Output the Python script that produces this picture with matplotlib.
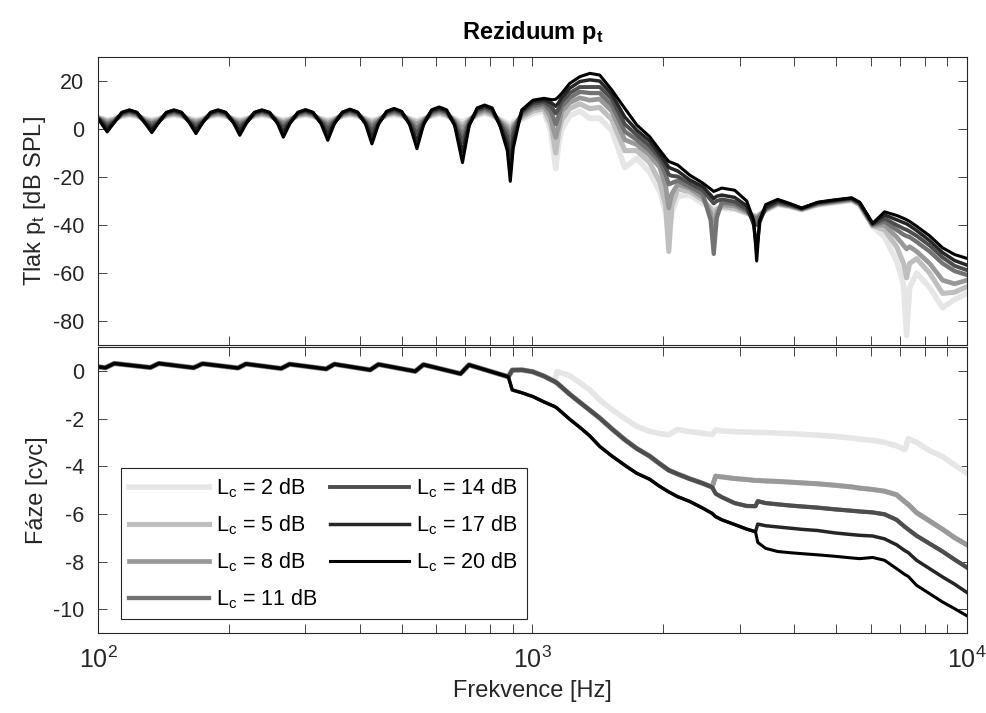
import numpy as np
import matplotlib
matplotlib.use("Agg")
import matplotlib.pyplot as plt

plt.rcParams['font.family'] = ['Liberation Sans', 'DejaVu Sans']
plt.rcParams['mathtext.fontset'] = 'custom'
plt.rcParams['mathtext.rm'] = 'Liberation Sans'
plt.rcParams['mathtext.it'] = 'Liberation Sans:italic'
plt.rcParams['mathtext.bf'] = 'Liberation Sans:bold'
plt.rcParams['axes.unicode_minus'] = False

levels = [2, 5, 8, 11, 14, 17, 20]  # L_c [dB]

# ---- magnitude of the residuum [dB SPL]
freq_mag = [
    100,
    105, 108.8, 113.5, 118.1, 122.9, 128.2,
    133, 137.8, 143.7, 149.6, 155.7, 162.4,
    168, 174, 181.6, 188.9, 196.7, 205.2,
    212, 219.6, 229.1, 238.4, 248.2, 258.9,
    267, 276.6, 288.5, 300.3, 312.5, 326.1,
    338, 350.1, 365.3, 380.1, 395.7, 412.8,
    427, 442.3, 461.5, 480.2, 499.8, 521.5,
    542, 561.5, 585.7, 609.6, 634.5, 661.9,
    690, 714.8, 745.7, 776, 807.7, 842.7,
    875, 889, 903,
    945, 1002, 1062, 1102, 1113, 1131, 1149, 1168, 1218, 1285,
    1355, 1428, 1522, 1631, 1738, 1861, 1963, 2026, 2059, 2092,
    2159, 2301, 2465, 2571, 2613, 2655, 2727, 2920, 3112, 3229,
    3281, 3334, 3442, 3667, 3908, 4164, 4533, 4961, 5427, 5661,
    6066, 6462, 6887, 7146, 7262, 7380, 7657, 8204, 8789, 9366,
    10000,
]

mag_2db = [
    4.8,
    3.8, 4.3, 5.3, 5.8, 5.3, 4.3,
    3.8, 4.3, 5.3, 5.8, 5.3, 4.3,
    3.8, 4.3, 5.3, 5.8, 5.3, 4.3,
    3.8, 4.3, 5.3, 5.8, 5.3, 4.3,
    3.8, 4.3, 5.3, 5.8, 5.3, 4.3,
    3.7, 4.3, 5.3, 5.9, 5.3, 4.3,
    3.6, 4.3, 5.4, 6.0, 5.4, 4.3,
    3.5, 4.3, 5.4, 6.2, 5.4, 4.3,
    3.0, 4.2, 5.6, 6.6, 5.6, 4.0,
    2.5, 1.5, 3.0,
    4.0, 6.5, 7.5, -1.0, -7.0, -16.5, -6.0, 0.0, 5.5, 7.5,
    4.5, 4.5, -0.5, -16.0, -12.2, -18.0, -26.0, -35.0, -45.0, -35.0,
    -28.0, -27.5, -31.0, -33.0, -34.0, -33.0, -33.0, -33.5, -35.0, -36.0,
    -36.5, -35.5, -34.0, -31.5, -32.3, -33.6, -31.7, -30.7, -29.8, -31.7,
    -40.5, -45.0, -55.0, -65.0, -86.0, -66.0, -60.0, -66.0, -74.5, -71.0,
    -68.5,
]
mag_5db = [
    4.8,
    3.3, 4.0, 5.6, 6.2, 5.6, 4.0,
    3.3, 4.0, 5.6, 6.2, 5.6, 4.0,
    3.3, 4.0, 5.6, 6.2, 5.6, 4.0,
    3.3, 4.0, 5.6, 6.2, 5.6, 4.0,
    3.2, 4.0, 5.6, 6.2, 5.6, 4.0,
    3.1, 4.0, 5.7, 6.3, 5.7, 4.0,
    3.0, 4.0, 5.8, 6.5, 5.8, 4.0,
    2.8, 4.0, 5.8, 6.7, 5.8, 3.9,
    1.5, 3.8, 6.0, 7.2, 6.0, 3.5,
    1.5, -1.0, 2.0,
    4.8, 7.5, 8.5, 2.0, -2.0, -10.0, -1.0, 4.0, 8.5, 10.5,
    8.5, 9.0, 4.0, -9.0, -9.0, -14.0, -22.0, -32.0, -51.0, -32.0,
    -25.0, -26.0, -29.5, -33.0, -36.0, -33.5, -32.3, -33.0, -35.0, -36.2,
    -36.5, -35.7, -33.7, -31.2, -32.2, -33.5, -31.5, -30.5, -29.6, -31.5,
    -40.3, -42.0, -49.0, -56.0, -62.0, -56.0, -54.0, -60.0, -68.5, -68.0,
    -65.7,
]
mag_8db = [
    4.7,
    2.8, 3.6, 5.9, 6.6, 5.9, 3.6,
    2.8, 3.6, 5.9, 6.6, 5.9, 3.6,
    2.8, 3.6, 5.9, 6.6, 5.9, 3.6,
    2.7, 3.6, 5.9, 6.6, 5.9, 3.6,
    2.6, 3.6, 5.9, 6.6, 5.9, 3.6,
    2.4, 3.6, 6.0, 6.7, 6.0, 3.6,
    2.2, 3.6, 6.1, 6.9, 6.1, 3.5,
    1.8, 3.6, 6.2, 7.2, 6.2, 3.4,
    0.0, 3.4, 6.6, 7.8, 6.6, 3.0,
    0.5, -4.0, 1.0,
    5.6, 8.5, 9.5, 5.0, 1.0, -3.5, 1.5, 7.5, 11.0, 13.0,
    12.0, 12.5, 7.5, -4.5, -6.5, -11.0, -16.0, -24.0, -33.0, -27.0,
    -23.0, -24.7, -28.5, -35.0, -44.0, -35.0, -31.5, -32.0, -34.5, -36.5,
    -37.0, -36.0, -33.5, -31.0, -32.0, -33.4, -31.3, -30.3, -29.4, -31.3,
    -40.1, -40.0, -45.0, -48.5, -50.0, -49.0, -51.0, -56.0, -63.0, -64.5,
    -63.0,
]
mag_11db = [
    4.6,
    2.1, 3.3, 6.2, 7.0, 6.2, 3.3,
    2.1, 3.3, 6.2, 7.0, 6.2, 3.3,
    2.0, 3.3, 6.2, 7.0, 6.2, 3.3,
    1.9, 3.3, 6.2, 7.0, 6.2, 3.3,
    1.7, 3.3, 6.2, 7.0, 6.2, 3.3,
    1.4, 3.3, 6.3, 7.1, 6.3, 3.2,
    1.0, 3.3, 6.4, 7.3, 6.4, 3.1,
    0.0, 3.2, 6.7, 7.7, 6.7, 2.9,
    -2.5, 2.9, 7.2, 8.4, 7.2, 2.5,
    -1.0, -8.0, 0.0,
    6.4, 9.5, 10.5, 7.5, 5.5, 2.0, 5.5, 9.5, 13.0, 15.5,
    15.0, 15.0, 10.0, -1.0, -4.5, -9.0, -13.5, -19.0, -23.0, -22.5,
    -21.5, -24.0, -27.0, -38.0, -52.0, -37.0, -30.5, -31.2, -34.0, -37.0,
    -37.5, -36.5, -33.3, -30.8, -31.8, -33.3, -31.1, -30.1, -29.2, -31.1,
    -39.9, -38.5, -42.0, -44.0, -44.6, -45.0, -47.0, -51.0, -56.0, -59.2,
    -60.8,
]
mag_14db = [
    4.5,
    1.3, 3.0, 6.5, 7.4, 6.5, 3.0,
    1.2, 3.0, 6.5, 7.4, 6.5, 3.0,
    1.1, 3.0, 6.5, 7.4, 6.5, 3.0,
    0.9, 3.0, 6.5, 7.4, 6.5, 3.0,
    0.5, 3.0, 6.5, 7.4, 6.5, 2.9,
    0.0, 2.9, 6.6, 7.6, 6.6, 2.8,
    -0.8, 2.8, 6.8, 7.8, 6.8, 2.6,
    -2.0, 2.7, 7.2, 8.2, 7.2, 2.3,
    -5.5, 2.3, 7.8, 9.0, 7.8, 2.0,
    -3.0, -12.0, -2.0,
    7.0, 10.5, 11.3, 9.5, 8.5, 6.5, 8.5, 11.5, 15.0, 17.5,
    17.5, 17.5, 12.5, 2.0, -2.5, -7.0, -12.0, -16.0, -19.0, -19.5,
    -19.8, -22.6, -25.5, -29.5, -31.0, -30.0, -29.3, -30.3, -33.3, -38.5,
    -40.0, -38.0, -33.0, -30.5, -31.6, -33.2, -30.9, -29.9, -29.0, -30.9,
    -39.7, -37.3, -40.0, -41.5, -42.0, -42.7, -44.5, -48.5, -53.5, -57.0,
    -58.8,
]
mag_17db = [
    4.4,
    0.2, 2.7, 6.8, 7.7, 6.8, 2.7,
    0.0, 2.7, 6.8, 7.7, 6.8, 2.7,
    -0.3, 2.7, 6.8, 7.7, 6.8, 2.7,
    -0.7, 2.7, 6.8, 7.7, 6.8, 2.6,
    -1.3, 2.6, 6.8, 7.8, 6.8, 2.5,
    -2.2, 2.5, 6.9, 7.9, 6.9, 2.4,
    -3.4, 2.3, 7.1, 8.2, 7.1, 2.1,
    -5.0, 2.1, 7.6, 8.7, 7.6, 1.8,
    -9.5, 1.7, 8.3, 9.5, 8.3, 1.5,
    -6.0, -17.0, -5.0,
    7.5, 11.3, 12.0, 11.0, 10.5, 9.5, 11.0, 13.2, 17.0, 19.8,
    20.5, 20.0, 14.5, 5.0, -0.5, -5.0, -10.5, -14.0, -16.0, -16.5,
    -17.5, -21.2, -24.0, -27.5, -29.0, -28.0, -27.5, -28.5, -32.0, -40.0,
    -50.0, -39.0, -32.5, -30.0, -31.3, -33.0, -30.7, -29.7, -28.8, -30.7,
    -39.5, -35.8, -37.8, -39.0, -39.5, -40.3, -42.3, -46.5, -51.5, -54.8,
    -56.7,
]
mag_20db = [
    4.3,
    -1.2, 2.5, 7.0, 8.0, 7.0, 2.5,
    -1.5, 2.5, 7.0, 8.0, 7.0, 2.5,
    -1.9, 2.5, 7.0, 8.0, 7.0, 2.4,
    -2.6, 2.4, 7.0, 8.0, 7.0, 2.3,
    -3.4, 2.3, 7.0, 8.1, 7.0, 2.2,
    -4.7, 2.2, 7.1, 8.3, 7.1, 2.0,
    -6.2, 2.0, 7.4, 8.6, 7.4, 1.8,
    -8.2, 1.8, 8.0, 9.2, 8.0, 1.5,
    -14.0, 1.3, 8.8, 10.0, 8.8, 1.0,
    -9.0, -21.8, -8.0,
    8.0, 12.0, 12.8, 12.3, 12.2, 12.4, 13.5, 14.9, 19.0, 21.8,
    23.2, 22.5, 16.3, 8.6, 1.7, -3.2, -8.8, -12.0, -13.5, -14.0,
    -15.0, -19.2, -22.5, -25.0, -26.0, -25.5, -24.6, -25.5, -30.0, -38.0,
    -55.0, -38.0, -31.5, -29.3, -31.0, -33.0, -30.5, -29.5, -28.7, -30.5,
    -39.3, -34.5, -36.0, -37.2, -37.8, -38.5, -40.5, -44.5, -49.5, -52.3,
    -53.9,
]

# ---- phase [cycles]
freq_phase = [
    100, 104, 109, 132, 138, 166, 174, 210, 219, 264,
    276, 335, 350, 423, 442, 537, 561, 683, 714, 880,
    898, 945, 1002, 1062, 1125, 1140, 1218, 1285, 1355, 1428,
    1522, 1631, 1738, 1861, 1963, 2059, 2159, 2301, 2465, 2590,
    2640, 2727, 2920, 3112, 3260, 3300, 3442, 3667, 3908, 4164,
    4533, 4961, 5427, 5661, 6066, 6462, 6887, 7200, 7320, 7657,
    8204, 8789, 9366, 10000,
]
# all levels coincide below ~880 Hz
phase_low = [0.17, 0.13, 0.31, 0.14, 0.31, 0.13, 0.30, 0.12, 0.29, 0.10,
             0.28, 0.08, 0.28, 0.04, 0.27, -0.02, 0.26, -0.12, 0.25, -0.25]

phase_2db = phase_low + [
    0.03, 0.04, -0.04, -0.22, -0.45, -0.03, -0.20, -0.50, -0.80, -1.22,
    -1.62, -2.00, -2.33, -2.54, -2.63, -2.68, -2.46, -2.55, -2.62, -2.68,
    -2.48, -2.52, -2.55, -2.57, -2.58, -2.58, -2.59, -2.61, -2.63, -2.66,
    -2.70, -2.75, -2.82, -2.86, -2.92, -3.00, -3.15, -3.30, -2.85, -3.00,
    -3.35, -3.60, -3.95, -4.30,
]
phase_8db = phase_low + [
    0.03, 0.04, -0.04, -0.22, -0.45, -0.52, -0.98, -1.32, -1.65, -1.98,
    -2.43, -2.89, -3.26, -3.58, -3.90, -4.17, -4.33, -4.53, -4.72, -4.88,
    -4.42, -4.45, -4.52, -4.56, -4.60, -4.60, -4.62, -4.64, -4.67, -4.70,
    -4.74, -4.80, -4.87, -4.92, -4.98, -5.05, -5.20, -5.50, -5.60, -5.95,
    -6.30, -6.65, -7.00, -7.30,
]
phase_5db = list(phase_8db)    # hidden under the 8 dB line
phase_14db = phase_low + [
    0.03, 0.04, -0.04, -0.22, -0.45, -0.52, -0.98, -1.32, -1.65, -1.98,
    -2.43, -2.89, -3.26, -3.58, -3.90, -4.17, -4.33, -4.53, -4.72, -4.88,
    -5.15, -5.30, -5.55, -5.67, -5.68, -5.47, -5.55, -5.60, -5.65, -5.69,
    -5.74, -5.81, -5.87, -5.90, -5.94, -6.02, -6.25, -6.55, -6.65, -6.92,
    -7.25, -7.58, -7.92, -8.25,
]
phase_11db = list(phase_14db)  # hidden under the 14 dB line
phase_17db = phase_low + [
    -0.80, -0.92, -1.08, -1.30, -1.50, -1.57, -2.03, -2.37, -2.73, -3.17,
    -3.57, -3.96, -4.30, -4.55, -4.85, -5.08, -5.28, -5.48, -5.76, -5.98,
    -6.12, -6.25, -6.45, -6.64, -6.75, -6.43, -6.50, -6.55, -6.60, -6.65,
    -6.70, -6.80, -6.87, -6.90, -6.93, -7.05, -7.30, -7.55, -7.62, -7.95,
    -8.30, -8.65, -8.95, -9.30,
]
phase_20db = phase_low + [
    -0.80, -0.92, -1.08, -1.30, -1.50, -1.57, -2.03, -2.37, -2.73, -3.17,
    -3.57, -3.96, -4.30, -4.55, -4.85, -5.08, -5.28, -5.48, -5.76, -5.98,
    -6.12, -6.25, -6.45, -6.64, -6.75, -7.20, -7.45, -7.58, -7.63, -7.67,
    -7.72, -7.78, -7.85, -7.88, -7.83, -7.95, -8.30, -8.55, -8.62, -9.00,
    -9.35, -9.70, -9.98, -10.28,
]

mags = [mag_2db, mag_5db, mag_8db, mag_11db, mag_14db, mag_17db, mag_20db]
phases = [phase_2db, phase_5db, phase_8db, phase_11db, phase_14db, phase_17db, phase_20db]

grays = np.linspace(0.9, 0.0, len(levels))
widths = np.linspace(4.0, 2.2, len(levels))
axcol = '#262626'

fig = plt.figure(figsize=(9.86, 7.13), dpi=100)
ax1 = fig.add_axes([0.0994, 0.5161, 0.8813, 0.4039])
ax2 = fig.add_axes([0.0994, 0.1122, 0.8813, 0.4011])

for i, L in enumerate(levels):
    c = str(grays[i])
    ax1.plot(freq_mag, mags[i], color=c, lw=widths[i], solid_joinstyle='round')
    ax2.plot(freq_phase, phases[i], color=c, lw=widths[i], solid_joinstyle='round',
             label=r'L$_\mathregular{c}$ = %d dB' % L)

for ax in (ax1, ax2):
    ax.set_xscale('log')
    ax.set_xlim(100, 10000)
    ax.tick_params(which='both', direction='in', top=True, right=True,
                   length=6.5, width=0.6, color=axcol, labelcolor=axcol,
                   labelsize=15.5)
    ax.tick_params(axis='y', pad=10)
    ax.tick_params(axis='x', pad=10, labelsize=18)
    for s in ax.spines.values():
        s.set_color(axcol)
        s.set_linewidth(0.8)

ax1.set_ylim(-90, 30)
ax1.set_yticks(np.arange(-80, 21, 20))
ax1.tick_params(labelbottom=False)
ax2.set_ylim(-11, 1)
ax2.set_yticks(np.arange(-10, 1, 2))

ax1.set_title(r'Reziduum p$_\mathbf{t}$', fontsize=17, fontweight='bold', pad=13)
ax1.set_ylabel(r'Tlak p$_\mathregular{t}$ [dB SPL]', fontsize=17, color=axcol)
ax2.set_ylabel('Fáze [cyc]', fontsize=17, color=axcol)
ax2.set_xlabel('Frekvence [Hz]', fontsize=17, color=axcol, labelpad=5)
ax1.yaxis.set_label_coords(-0.058, 0.5)
ax2.yaxis.set_label_coords(-0.058, 0.5)

leg = ax2.legend(ncol=2, loc='lower left', bbox_to_anchor=(0.026, 0.048),
                 borderaxespad=0, fontsize=15.5, handlelength=3.7,
                 handletextpad=0.33, columnspacing=0.55, labelspacing=0.62,
                 borderpad=0.4, fancybox=False, framealpha=1,
                 edgecolor=axcol)
leg.get_frame().set_linewidth(0.8)

fig.savefig('out.png', dpi=100)
